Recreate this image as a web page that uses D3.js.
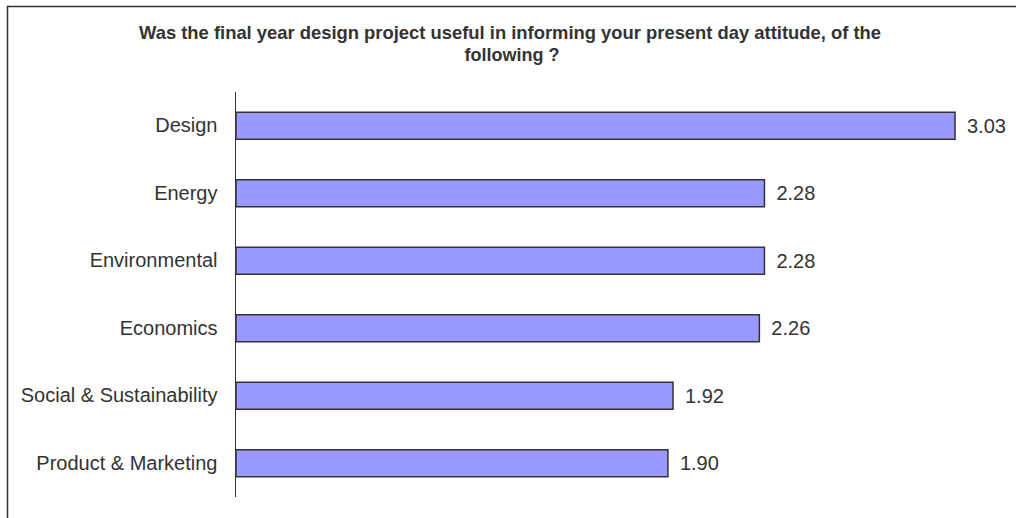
<!DOCTYPE html>
<html>
<head>
<meta charset="utf-8">
<script src="https://cdn.jsdelivr.net/npm/d3@7"></script>
<style>
  html, body { margin: 0; padding: 0; background: #fff; }
  svg { display: block; }
</style>
</head>
<body>
<svg id="chart" width="1016" height="518"></svg>
<script>
// Survey categories and their mean scores
const categories = ["Design", "Energy", "Environmental", "Economics", "Social & Sustainability", "Product & Marketing"];
const scores = [3.03, 2.28, 2.28, 2.26, 1.92, 1.90];
const titleLines = [
  "Was the final year design project useful in informing your present day attitude, of the",
  "following ?"
];

const svg = d3.select("#chart");
const W = 1016, H = 518;
const FONT = "'Liberation Sans', Arial, sans-serif";

// outer frame (runs past the right and bottom edges)
svg.append("rect")
  .attr("x", 7.5).attr("y", 6.5)
  .attr("width", W + 20).attr("height", H + 20)
  .attr("fill", "#fff")
  .attr("stroke", "#333").attr("stroke-width", 1.5);

const plot = { left: 236, right: 955, top: 92, bottom: 497 };

const x = d3.scaleLinear().domain([0.2, 3.03]).range([plot.left, plot.right]);
const y = d3.scaleBand().domain(categories)
  .range([plot.top, plot.bottom])
  .paddingInner(0.6).paddingOuter(0.3);

const data = categories.map((c, i) => ({ cat: c, v: scores[i] }));

// title
const title = svg.append("g")
  .attr("font-family", FONT)
  .attr("font-weight", "bold")
  .attr("font-size", 18.5)
  .attr("fill", "#333")
  .attr("text-anchor", "middle");
title.append("text").attr("x", 510).attr("y", 39)
  .attr("textLength", 742).attr("lengthAdjust", "spacingAndGlyphs")
  .text(titleLines[0]);
title.append("text").attr("x", 512).attr("y", 61)
  .attr("textLength", 95).attr("lengthAdjust", "spacingAndGlyphs")
  .text(titleLines[1]);

// bars
svg.append("g").selectAll("rect")
  .data(data).join("rect")
  .attr("x", plot.left)
  .attr("y", d => y(d.cat))
  .attr("width", d => x(d.v) - plot.left)
  .attr("height", y.bandwidth())
  .attr("fill", "#9999ff")
  .attr("stroke", "#333")
  .attr("stroke-width", 1.5);

// category axis
const axis = svg.append("g")
  .attr("transform", `translate(${plot.left - 0.5},0)`)
  .call(d3.axisLeft(y).tickSize(0).tickPadding(18));
axis.select(".domain")
  .attr("d", `M0,${plot.top}V${plot.bottom}`)
  .attr("stroke", "#333").attr("stroke-width", 1);
axis.selectAll("text")
  .attr("font-family", FONT)
  .attr("font-size", 20)
  .attr("fill", "#333");

// value labels
svg.append("g").selectAll("text")
  .data(data).join("text")
  .attr("x", d => x(d.v) + 12)
  .attr("y", d => y(d.cat) + y.bandwidth() / 2)
  .attr("dy", "0.35em")
  .attr("font-family", FONT)
  .attr("font-size", 20)
  .attr("fill", "#333")
  .text(d => d.v.toFixed(2));
</script>
</body>
</html>
